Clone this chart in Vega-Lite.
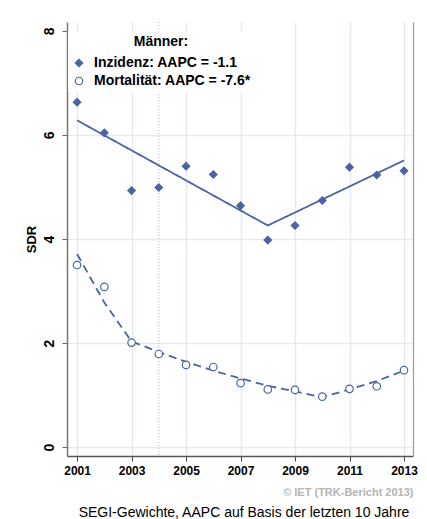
{
  "$schema": "https://vega.github.io/schema/vega-lite/v6.json",
  "width": 346,
  "height": 434,
  "autosize": {"type": "none"},
  "padding": {"left": 67, "top": 22, "right": 14, "bottom": 63},
  "background": "white",
  "config": {"view": {"stroke": null}, "font": "Liberation Sans"},
  "title": {"text": "SEGI-Gewichte, AAPC auf Basis der letzten 10 Jahre", "orient": "bottom", "anchor": "middle", "fontSize": 14, "fontWeight": 500, "color": "black", "offset": 9, "dx": 4},
  "datasets": {
    "obs": [
      {"year": 2001, "series": "Inzidenz: AAPC = -1.1", "sdr": 6.63},
      {"year": 2002, "series": "Inzidenz: AAPC = -1.1", "sdr": 6.04},
      {"year": 2003, "series": "Inzidenz: AAPC = -1.1", "sdr": 4.93},
      {"year": 2004, "series": "Inzidenz: AAPC = -1.1", "sdr": 4.99},
      {"year": 2005, "series": "Inzidenz: AAPC = -1.1", "sdr": 5.40},
      {"year": 2006, "series": "Inzidenz: AAPC = -1.1", "sdr": 5.24},
      {"year": 2007, "series": "Inzidenz: AAPC = -1.1", "sdr": 4.64},
      {"year": 2008, "series": "Inzidenz: AAPC = -1.1", "sdr": 3.98},
      {"year": 2009, "series": "Inzidenz: AAPC = -1.1", "sdr": 4.26},
      {"year": 2010, "series": "Inzidenz: AAPC = -1.1", "sdr": 4.74},
      {"year": 2011, "series": "Inzidenz: AAPC = -1.1", "sdr": 5.38},
      {"year": 2012, "series": "Inzidenz: AAPC = -1.1", "sdr": 5.23},
      {"year": 2013, "series": "Inzidenz: AAPC = -1.1", "sdr": 5.31},
      {"year": 2001, "series": "Mortalität: AAPC = -7.6*", "sdr": 3.50},
      {"year": 2002, "series": "Mortalität: AAPC = -7.6*", "sdr": 3.08},
      {"year": 2003, "series": "Mortalität: AAPC = -7.6*", "sdr": 2.01},
      {"year": 2004, "series": "Mortalität: AAPC = -7.6*", "sdr": 1.79},
      {"year": 2005, "series": "Mortalität: AAPC = -7.6*", "sdr": 1.58},
      {"year": 2006, "series": "Mortalität: AAPC = -7.6*", "sdr": 1.54},
      {"year": 2007, "series": "Mortalität: AAPC = -7.6*", "sdr": 1.23},
      {"year": 2008, "series": "Mortalität: AAPC = -7.6*", "sdr": 1.11},
      {"year": 2009, "series": "Mortalität: AAPC = -7.6*", "sdr": 1.10},
      {"year": 2010, "series": "Mortalität: AAPC = -7.6*", "sdr": 0.97},
      {"year": 2011, "series": "Mortalität: AAPC = -7.6*", "sdr": 1.12},
      {"year": 2012, "series": "Mortalität: AAPC = -7.6*", "sdr": 1.17},
      {"year": 2013, "series": "Mortalität: AAPC = -7.6*", "sdr": 1.48}
    ],
    "fit": [
      {"year": 2001, "curve": "Inzidenz", "sdr": 6.28},
      {"year": 2008, "curve": "Inzidenz", "sdr": 4.26},
      {"year": 2013, "curve": "Inzidenz", "sdr": 5.51},
      {"year": 2001, "curve": "Mortalität", "sdr": 3.71},
      {"year": 2002, "curve": "Mortalität", "sdr": 2.78},
      {"year": 2003, "curve": "Mortalität", "sdr": 2.03},
      {"year": 2004, "curve": "Mortalität", "sdr": 1.83},
      {"year": 2005, "curve": "Mortalität", "sdr": 1.64},
      {"year": 2006, "curve": "Mortalität", "sdr": 1.47},
      {"year": 2007, "curve": "Mortalität", "sdr": 1.32},
      {"year": 2008, "curve": "Mortalität", "sdr": 1.18},
      {"year": 2009, "curve": "Mortalität", "sdr": 1.07},
      {"year": 2010, "curve": "Mortalität", "sdr": 0.96},
      {"year": 2011, "curve": "Mortalität", "sdr": 1.11},
      {"year": 2012, "curve": "Mortalität", "sdr": 1.27},
      {"year": 2013, "curve": "Mortalität", "sdr": 1.47}
    ],
    "marker": [{"year": 2004}]
  },
  "layer": [
    {
      "data": {"name": "marker"},
      "mark": {"type": "rule", "color": "#b4b4d2", "strokeDash": [1, 2], "strokeWidth": 1},
      "encoding": {
        "x": {"field": "year", "type": "quantitative", "scale": {"domain": [2000.63, 2013.33], "nice": false, "zero": false},
          "axis": {"values": [2001, 2002, 2003, 2004, 2005, 2006, 2007, 2008, 2009, 2010, 2011, 2012, 2013], "format": "d",
            "labelExpr": "datum.value % 2 == 1 ? datum.label : ''", "labelOverlap": false, "labelFlush": false,
            "labelFontSize": 12, "labelFontWeight": "bold", "labelColor": "black", "labelPadding": 4,
            "tickSize": 5, "tickColor": "#444", "domainColor": "#555", "domainWidth": 1.5,
            "grid": true, "gridColor": "#e2ebee", "gridWidth": 1.5,
            "gridOpacity": {"condition": {"test": "datum.value % 2 == 0", "value": 0}, "value": 1},
            "title": "© IET (TRK-Bericht 2013)", "titleAnchor": "end", "titleColor": "#b4b4b4", "titleFontSize": 11, "titleFontWeight": "bold", "titlePadding": 10}}
      }
    },
    {
      "data": {"name": "fit"},
      "mark": {"type": "line", "strokeWidth": 1.8, "color": "#4b64a1"},
      "encoding": {
        "x": {"field": "year", "type": "quantitative", "title": "© IET (TRK-Bericht 2013)"},
        "y": {"field": "sdr", "type": "quantitative", "scale": {"domain": [-0.17, 8.17], "nice": false, "zero": false},
          "axis": {"orient": "right", "labels": false, "ticks": false, "grid": false, "title": null, "domainColor": "#9a9a9a", "domainWidth": 1.2}},
        "strokeDash": {"field": "curve", "type": "nominal", "scale": {"domain": ["Inzidenz", "Mortalität"], "range": [[1, 0], [8, 5]]}, "legend": null}
      }
    },
    {
      "data": {"name": "obs"},
      "mark": {"type": "point", "opacity": 1, "strokeWidth": 1.2, "size": 56},
      "encoding": {
        "x": {"field": "year", "type": "quantitative", "title": "© IET (TRK-Bericht 2013)"},
        "y": {"field": "sdr", "type": "quantitative", "title": "SDR",
          "axis": {"orient": "left", "values": [0, 2, 4, 6, 8], "format": "d", "labelAngle": 270, "labelAlign": "center", "labelBaseline": "bottom",
            "labelFontSize": 14, "labelFontWeight": "bold", "labelColor": "black", "labelPadding": 6,
            "tickSize": 5, "tickColor": "#666", "domainColor": "#777", "domainWidth": 1.5,
            "grid": true, "gridColor": "#e2ebee", "gridWidth": 1.5,
            "gridOpacity": {"condition": {"test": "datum.value == 8", "value": 0}, "value": 1},
            "titleFontSize": 13, "titleFontWeight": "bold", "titleColor": "black", "titlePadding": 4}},
        "shape": {"field": "series", "type": "nominal", "scale": {"domain": ["Inzidenz: AAPC = -1.1", "Mortalität: AAPC = -7.6*"], "range": ["diamond", "circle"]},
          "legend": {"title": "Männer:", "orient": "none", "legendX": 1, "legendY": 9, "padding": 4, "fillColor": "white",
            "titleAnchor": "middle", "titleFontSize": 14, "titleFontWeight": "bold", "titleColor": "black", "titlePadding": 7,
            "labelFontSize": 14, "labelFontWeight": "bold", "labelColor": "black", "labelOffset": 8, "rowPadding": 4, "symbolSize": 56, "symbolStrokeWidth": 1.2, "labelLimit": 400}},
        "fill": {"field": "series", "type": "nominal", "scale": {"domain": ["Inzidenz: AAPC = -1.1", "Mortalität: AAPC = -7.6*"], "range": ["#4b64a1", "white"]},
          "legend": {"title": "Männer:", "orient": "none", "legendX": 1, "legendY": 9, "padding": 4, "fillColor": "white",
            "titleAnchor": "middle", "titleFontSize": 14, "titleFontWeight": "bold", "titleColor": "black", "titlePadding": 7,
            "labelFontSize": 14, "labelFontWeight": "bold", "labelColor": "black", "labelOffset": 8, "rowPadding": 4, "symbolSize": 56, "symbolStrokeWidth": 1.2, "labelLimit": 400}},
        "stroke": {"field": "series", "type": "nominal", "scale": {"domain": ["Inzidenz: AAPC = -1.1", "Mortalität: AAPC = -7.6*"], "range": ["#4b64a1", "#4b64a1"]},
          "legend": {"title": "Männer:", "orient": "none", "legendX": 1, "legendY": 9, "padding": 4, "fillColor": "white",
            "titleAnchor": "middle", "titleFontSize": 14, "titleFontWeight": "bold", "titleColor": "black", "titlePadding": 7,
            "labelFontSize": 14, "labelFontWeight": "bold", "labelColor": "black", "labelOffset": 8, "rowPadding": 4, "symbolSize": 56, "symbolStrokeWidth": 1.2, "labelLimit": 400}}
      }
    }
  ],
  "resolve": {"axis": {"y": "independent"}}
}
